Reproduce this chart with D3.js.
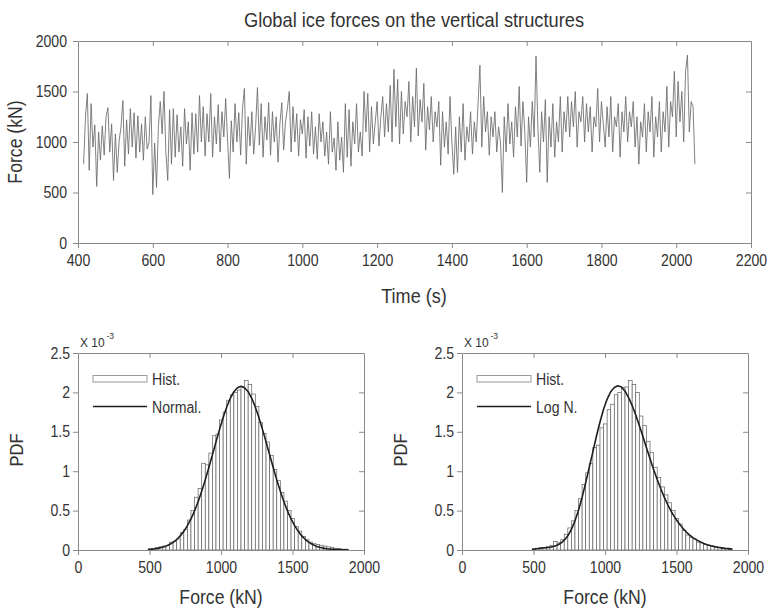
<!DOCTYPE html>
<html>
<head>
<meta charset="utf-8">
<script src="https://cdn.jsdelivr.net/npm/d3@7"></script>
<style>
  body { margin: 0; background: #fff; }
  svg text { font-family: "Liberation Sans", Arial, sans-serif; fill: #333; }
</style>
</head>
<body>
<svg id="chart" width="769" height="613"></svg>
<script>
// ---- Time history of the global ice force (kN), sampled every 5 s from t = 415 s ----
const timeStart = 415;
const timeStep = 5;
const forceValues = [
  780, 1250, 1480, 720, 1380, 950, 1170, 560, 1100, 820,
  1160, 870, 1250, 1340, 900, 1180, 620, 1080, 700, 1010,
  1150, 1410, 760, 1220, 880, 1330, 950, 1290, 840, 1260,
  900, 1180, 820, 1250, 930, 1000, 1460, 480, 990, 550,
  1150, 1400, 1080, 1500, 900, 620, 1320, 780, 1330, 850,
  1270, 900, 1150, 760, 1330, 980, 1200, 720, 1290, 880,
  1280, 900, 1460, 1000, 1350, 860, 1280, 1000, 1480, 850,
  1250, 980, 1370, 900, 1300, 1050, 1430, 1020, 640, 1210,
  900, 1380, 1000, 1290, 870, 1330, 1530, 780, 1250, 960,
  1300, 880, 1150, 1540, 970, 1380, 850, 1250, 1020, 1390,
  870, 1300, 1000, 1250, 800, 1180, 1390, 920, 1200, 1330,
  1500, 900, 1350, 1000, 1280, 860, 1220, 1080, 1320, 840,
  1250, 960, 1300, 880, 1150, 830, 1280, 1000, 1200, 860,
  1100, 780, 1300, 900, 1040, 720, 1200, 820, 1050, 700,
  1380, 850, 1320, 760, 1200, 980, 1380, 900, 1100, 860,
  1500, 1100, 1480, 900, 1350, 980, 1200, 1400, 960, 1250,
  1450, 1050, 1380, 1100, 1560, 1000, 1720, 1150, 1620, 980,
  1500, 1080, 1400, 1250, 1600, 1000, 1450, 1150, 1730, 1060,
  1420, 1200, 1580, 920, 1350, 1120, 1450, 1000, 1300, 1150,
  1400, 770, 1300, 950, 1200, 880, 1450, 1000, 680, 1150,
  700, 1250, 900, 1380, 820, 1150, 1000, 1300, 880, 1200,
  1000, 1380, 1760, 950, 1450, 1100, 1300, 870, 1250, 1050,
  1300, 900, 1150, 1000, 500, 1250, 900, 1380, 980, 1200,
  850, 1350, 1050, 1550, 960, 1400, 1100, 600, 1250, 950,
  1400, 1050, 1850, 1150, 700, 1300, 1000, 1420, 600, 1250,
  950, 1380, 850, 1200, 1000, 1450, 900, 1300, 1100, 1450,
  1050, 1400, 1150, 1500, 950, 1300, 1200, 1450, 1000, 1380,
  1100, 1350, 900, 1250, 1150, 1530, 1000, 1400, 1180, 950,
  1350, 1050, 1450, 900, 1250, 1150, 1380, 850, 1300, 1100,
  1450, 1000, 1300, 1150, 1400, 950, 1250, 780, 1200, 1050,
  1380, 900, 1300, 1100, 1450, 850, 1250, 1050, 1400, 900,
  1300, 1100, 1550, 950, 1400, 1250, 1700, 1050, 1600, 1200,
  1500, 1000, 1700, 1860, 1100, 1400, 1350, 780
];
const timeTicks = [400, 600, 800, 1000, 1200, 1400, 1600, 1800, 2000, 2200];
const forceTicks = [0, 500, 1000, 1500, 2000];

// ---- Histograms (PDF, x 10^-3), bins of 25 kN starting at 490 kN ----
const binStart = 490;
const binWidth = 25;
const histNormalPanel = [
  0.01, 0.02, 0.03, 0.04, 0.05, 0.06, 0.10, 0.11, 0.14, 0.22,
  0.26, 0.38, 0.50, 0.67, 0.78, 1.10, 1.08, 1.23, 1.45, 1.47,
  1.65, 1.75, 1.90, 1.97, 2.00, 2.03, 2.07, 2.15, 2.10, 1.98,
  1.82, 1.62, 1.48, 1.37, 1.20, 1.02, 0.88, 0.73, 0.62, 0.50,
  0.40, 0.30, 0.24, 0.17, 0.13, 0.10, 0.08, 0.07, 0.06, 0.05,
  0.04, 0.03, 0.02, 0.02, 0.01, 0.01
];
const histLogNPanel = [
  0.01, 0.02, 0.03, 0.03, 0.04, 0.06, 0.11, 0.09, 0.13, 0.20,
  0.28, 0.37, 0.50, 0.65, 0.83, 0.98, 1.10, 1.30, 1.33, 1.55,
  1.60, 1.78, 1.85, 1.97, 2.00, 2.06, 2.07, 2.15, 2.10, 2.00,
  1.70, 1.58, 1.38, 1.24, 1.05, 0.92, 0.80, 0.70, 0.60, 0.50,
  0.40, 0.33, 0.25, 0.19, 0.16, 0.14, 0.10, 0.09, 0.07, 0.06,
  0.05, 0.04, 0.03, 0.02, 0.02, 0.01
];

// ---- Fitted density curves (x 10^-3), every 25 kN from 490 kN ----
const curveStart = 490;
const curveStep = 25;
const pdfNormal = [
  0.008, 0.011, 0.016, 0.024, 0.034, 0.049, 0.070, 0.097, 0.133, 0.179,
  0.237, 0.309, 0.394, 0.496, 0.613, 0.745, 0.890, 1.046, 1.208, 1.372,
  1.531, 1.681, 1.814, 1.925, 2.009, 2.060, 2.078, 2.060, 2.009, 1.925,
  1.814, 1.681, 1.531, 1.372, 1.208, 1.046, 0.890, 0.745, 0.613, 0.496,
  0.394, 0.309, 0.237, 0.179, 0.133, 0.097, 0.070, 0.049, 0.034, 0.024,
  0.016, 0.011, 0.008, 0.006, 0.004, 0.003, 0.002
];
const pdfLogNormal = [
  0.010, 0.015, 0.020, 0.025, 0.030, 0.035, 0.045, 0.060, 0.085, 0.125,
  0.180, 0.260, 0.370, 0.505, 0.670, 0.855, 1.048, 1.245, 1.444, 1.625,
  1.785, 1.915, 2.008, 2.062, 2.084, 2.068, 2.015, 1.935, 1.833, 1.712,
  1.580, 1.440, 1.298, 1.158, 1.023, 0.895, 0.777, 0.668, 0.571, 0.485,
  0.408, 0.342, 0.284, 0.235, 0.193, 0.157, 0.128, 0.104, 0.084, 0.068,
  0.054, 0.043, 0.034, 0.027, 0.021, 0.017, 0.013
];
const pdfTicks = [0, 0.5, 1, 1.5, 2, 2.5];
const pdfForceTicks = [0, 500, 1000, 1500, 2000];

const svg = d3.select("#chart");
const axisColor = "#8a8a8a";

// Narrow the glyphs of a text selection horizontally (condensed face look).
function squeeze(sel, factor) {
  sel.each(function () {
    const w = this.getComputedTextLength();
    if (w > 0) d3.select(this).attr("textLength", w * factor).attr("lengthAdjust", "spacingAndGlyphs");
  });
  return sel;
}

function label(x, y, txt, size, factor, rotate) {
  const t = svg.append("text")
    .attr("transform", `translate(${x},${y})` + (rotate ? " rotate(-90)" : ""))
    .attr("text-anchor", "middle")
    .style("font-size", size + "px")
    .text(txt);
  squeeze(t, factor);
  return t;
}

// Box-style frame: labelled left/bottom axes with outward ticks,
// unlabelled top/right axes with inward ticks.
function drawFrame(g, x, y, xTicks, yTicks, yFmt, leftPad) {
  const [x0, x1] = x.range();
  const [y0, y1] = y.range();
  const innerX = xTicks.filter(v => v > x.domain()[0] && v < x.domain()[1]);
  const innerY = yTicks.filter(v => v > y.domain()[0] && v < y.domain()[1]);

  const bottom = g.append("g").attr("transform", `translate(0,${y0})`)
    .call(d3.axisBottom(x).tickValues(xTicks).tickFormat(d3.format("d"))
      .tickSize(5).tickSizeOuter(0).tickPadding(7));
  const left = g.append("g").attr("transform", `translate(${x0},0)`)
    .call(d3.axisLeft(y).tickValues(yTicks).tickFormat(yFmt)
      .tickSize(5).tickSizeOuter(0).tickPadding(leftPad));
  const top = g.append("g").attr("transform", `translate(0,${y1})`)
    .call(d3.axisTop(x).tickValues(innerX).tickSize(-5).tickSizeOuter(0).tickFormat(""));
  const right = g.append("g").attr("transform", `translate(${x1},0)`)
    .call(d3.axisRight(y).tickValues(innerY).tickSize(-5).tickSizeOuter(0).tickFormat(""));

  [bottom, left, top, right].forEach(a => {
    a.select(".domain").attr("stroke", axisColor).attr("stroke-width", 1);
    a.selectAll(".tick line").attr("stroke", axisColor).attr("stroke-width", 1);
    const t = a.selectAll(".tick text")
      .style("font-family", '"Liberation Sans", Arial, sans-serif')
      .style("font-size", "16px").attr("fill", "#333");
    squeeze(t, 0.88);
  });
}

// ================= Top panel: force time history =================
const topX = d3.scaleLinear().domain([400, 2200]).range([78, 751]);
const topY = d3.scaleLinear().domain([0, 2000]).range([243, 41]);
const gTop = svg.append("g");

gTop.append("path")
  .datum(forceValues)
  .attr("fill", "none")
  .attr("stroke", "#6a6a6a")
  .attr("stroke-width", 0.85)
  .attr("d", d3.line()
    .x((d, i) => topX(timeStart + i * timeStep))
    .y(d => topY(d)));

drawFrame(gTop, topX, topY, timeTicks, forceTicks, d3.format("d"), 6);

label(414, 27, "Global ice forces on the vertical structures", 21, 0.87);
label(414, 303, "Time (s)", 21, 0.86);
label(22, 142, "Force (kN)", 21, 0.84, true);

// ================= Bottom panels: histograms with fitted PDFs =================
function pdfPanel(left, hist, curve, curveLabel) {
  const x = d3.scaleLinear().domain([0, 2000]).range([left, left + 286]);
  const y = d3.scaleLinear().domain([0, 2.5]).range([550, 353]);
  const g = svg.append("g");

  g.selectAll("rect.bar").data(hist).enter().append("rect")
    .attr("class", "bar")
    .attr("x", (d, i) => x(binStart + i * binWidth))
    .attr("width", (d, i) => x(binStart + (i + 1) * binWidth) - x(binStart + i * binWidth))
    .attr("y", d => y(d))
    .attr("height", d => y(0) - y(d))
    .attr("fill", "#fff")
    .attr("stroke", "#606060")
    .attr("stroke-width", 0.7);

  g.append("path").datum(curve)
    .attr("fill", "none")
    .attr("stroke", "#1e1e1e")
    .attr("stroke-width", 1.6)
    .attr("stroke-linejoin", "round")
    .attr("d", d3.line()
      .x((d, i) => x(curveStart + i * curveStep))
      .y(d => y(d)));

  drawFrame(g, x, y, pdfForceTicks, pdfTicks, d3.format("~g"), 3);

  // legend
  const lx = left + 15;
  g.append("rect").attr("x", lx).attr("y", 375.5).attr("width", 54).attr("height", 6.5)
    .attr("fill", "#fff").attr("stroke", "#9a9a9a").attr("stroke-width", 1);
  squeeze(g.append("text").attr("x", lx + 59).attr("y", 385).style("font-size", "16px").text("Hist."), 0.88);
  g.append("line").attr("x1", lx).attr("x2", lx + 54).attr("y1", 406.5).attr("y2", 406.5)
    .attr("stroke", "#1e1e1e").attr("stroke-width", 1.6);
  squeeze(g.append("text").attr("x", lx + 59).attr("y", 413).style("font-size", "16px").text(curveLabel), 0.88);

  // exponent note above the y axis
  const base = g.append("text").attr("x", left + 2).attr("y", 347)
    .style("font-size", "12px").text("X 10");
  const baseW = base.node().getBBox().width;
  g.append("text").attr("x", left + 3.5 + baseW).attr("y", 339)
    .style("font-size", "8.5px").text("-3");

  label(left + 143, 604, "Force (kN)", 21, 0.84);
  label(left - 55, 450, "PDF", 19, 0.87, true);
}

pdfPanel(78, histNormalPanel, pdfNormal, "Normal.");
pdfPanel(462, histLogNPanel, pdfLogNormal, "Log N.");
</script>
</body>
</html>
